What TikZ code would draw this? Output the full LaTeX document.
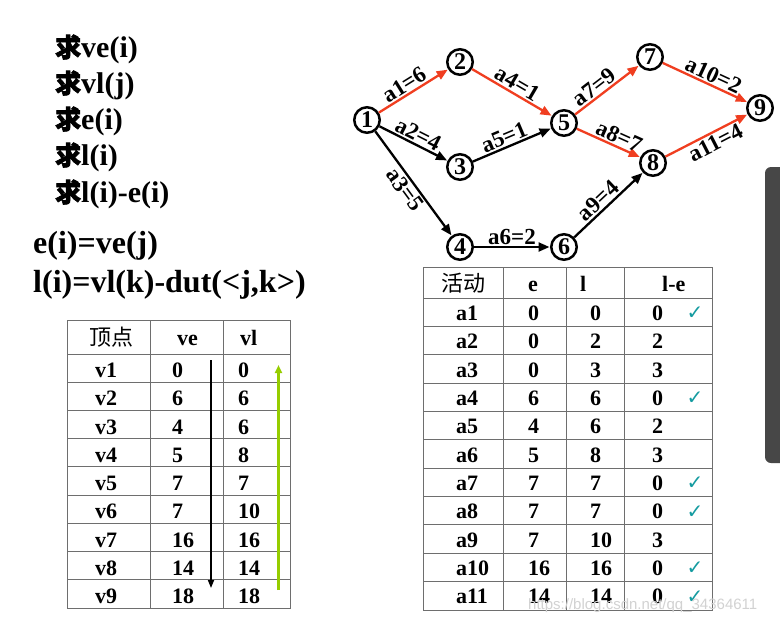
\documentclass[tikz,border=0pt]{standalone}
\usepackage{fontspec}
\setmainfont{Liberation Serif}
\newfontfamily\cjk{Noto Sans CJK SC}
\newfontfamily\cjkb[FakeBold=2.5]{Noto Sans CJK SC}
\newfontfamily\symf{DejaVu Sans}
\newfontfamily\wmf{Liberation Sans}
\usetikzlibrary{arrows.meta}
\definecolor{cpred}{RGB}{240,62,32}
\definecolor{ygreen}{RGB}{150,205,0}
\definecolor{chk}{RGB}{20,155,160}
\definecolor{barg}{RGB}{71,71,71}
\definecolor{tblc}{RGB}{110,110,110}
\tikzset{
  qiu/.style={anchor=base west, inner sep=0pt, font=\bfseries\fontsize{30}{30}\selectfont},
  formula/.style={anchor=base west, inner sep=0pt, font=\bfseries\fontsize{32}{32}\selectfont},
  vtx/.style={circle, draw, line width=2.5pt, fill=white, minimum size=25.5pt, inner sep=0pt, font=\bfseries\fontsize{24}{24}\selectfont},
  ed/.style={line width=2.3pt, -{Triangle[length=11pt,width=9pt]}, shorten >=0.5pt},
  crit/.style={ed, draw=cpred, fill=cpred},
  lab/.style={sloped, font=\bfseries\fontsize{23}{23}\selectfont, inner sep=1.5pt},
  tbl/.style={draw=tblc, line width=1pt},
  cell/.style={anchor=base west, inner sep=0pt, font=\bfseries\fontsize{22}{22}\selectfont},
  hcell/.style={inner sep=0pt, font=\cjk\fontsize{22}{22}\selectfont},
  chkm/.style={inner sep=0pt, text=chk, font=\symf\fontsize{20}{20}\selectfont}
}
\begin{document}
\begin{tikzpicture}[x=1pt,y=-1pt]
\useasboundingbox (0,0) rectangle (780,625);
\fill[white] (0,0) rectangle (780,625);

% left text
\node[qiu] (q1) at (55,57) {{\cjkb\fontsize{26}{26}\selectfont 求}ve(i)};
\node[qiu] (q2) at (55,93) {{\cjkb\fontsize{26}{26}\selectfont 求}vl(j)};
\node[qiu] (q3) at (55,129) {{\cjkb\fontsize{26}{26}\selectfont 求}e(i)};
\node[qiu] (q4) at (55,165) {{\cjkb\fontsize{26}{26}\selectfont 求}l(i)};
\node[qiu] (q5) at (55,202) {{\cjkb\fontsize{26}{26}\selectfont 求}l(i)-e(i)};
\node[formula] (f1) at (33,253) {e(i)=ve(j)};
\node[formula] (f2) at (33,292) {l(i)=vl(k)-dut(<j,k>)};

% graph
\node[vtx] (n1) at (367,120) {1};
\node[vtx] (n2) at (460,62) {2};
\node[vtx] (n3) at (460,167) {3};
\node[vtx] (n4) at (460,247) {4};
\node[vtx] (n5) at (564,123) {5};
\node[vtx] (n6) at (564,247) {6};
\node[vtx] (n7) at (650,57) {7};
\node[vtx] (n8) at (653,163) {8};
\node[vtx] (n9) at (760,108) {9};

\draw[crit] (n1) -- node[lab, above, pos=0.45] (l1) {a1=6} (n2);
\draw[ed] (n1) -- node[lab, above, pos=0.5] (l2) {a2=4} (n3);
\draw[ed] (n1) -- node[lab, below, pos=0.5] (l3) {a3=5} (n4);
\draw[crit] (n2) -- node[lab, above, pos=0.5] (l4) {a4=1} (n5);
\draw[ed] (n3) -- node[lab, above, pos=0.45] (l5) {a5=1} (n5);
\draw[ed] (n4) -- node[lab, above, pos=0.5] (l6) {a6=2} (n6);
\draw[crit] (n5) -- node[lab, above, pos=0.4] (l7) {a7=9} (n7);
\draw[crit] (n5) -- node[lab, above, pos=0.6] (l8) {a8=7} (n8);
\draw[ed] (n6) -- node[lab, above, pos=0.45] (l9) {a9=4} (n8);
\draw[crit] (n7) -- node[lab, above, pos=0.55] (l10) {a10=2} (n9);
\draw[crit] (n8) -- node[lab, below, pos=0.55] (l11) {a11=4} (n9);

% left table
\draw[tbl] (67,320) rectangle (290,608);
\draw[tbl] (150,320) -- (150,608);
\draw[tbl] (223,320) -- (223,608);
\foreach \k in {0,...,8} {
  \draw[tbl] (67,354+\k*28.22) -- (290,354+\k*28.22);
}
\node[hcell] (h1) at (111,337) {顶点};
\node[cell] (h2) at (177,345) {ve};
\node[cell] (h3) at (240,345) {vl};
\foreach \n/\a/\b [count=\i] in {v1/0/0, v2/6/6, v3/4/6, v4/5/8, v5/7/7, v6/7/10, v7/16/16, v8/14/14, v9/18/18} {
  \node[cell] (vn\i) at (95,354+\i*28.22-4.5) {\n};
  \node[cell] (ve\i) at (172,354+\i*28.22-4.5) {\a};
  \node[cell] (vl\i) at (238,354+\i*28.22-4.5) {\b};
}
\coordinate (ba) at (211,360);
\coordinate (bb) at (211,588);
\coordinate (ga) at (278.5,590);
\coordinate (gb) at (278.5,365);
\draw[line width=1.6pt, -{Triangle[length=8pt,width=6pt]}] (ba) -- (bb);
\draw[ygreen, line width=2.2pt, -{Triangle[length=8pt,width=7pt]}] (ga) -- (gb);

% right table
\draw[tbl] (423,267) rectangle (712,610);
\foreach \x in {503,566,624} { \draw[tbl] (\x,267) -- (\x,610); }
\foreach \k in {0,...,10} {
  \draw[tbl] (423,298+\k*28.36) -- (712,298+\k*28.36);
}
\node[hcell] (r1) at (463,283) {活动};
\node[cell] (r2) at (528,291) {e};
\node[cell] (r3) at (580,291) {l};
\node[cell] (r4) at (662,291) {l-e};
\foreach \n/\a/\b/\c/\m [count=\i] in {a1/0/0/0/1, a2/0/2/2/0, a3/0/3/3/0, a4/6/6/0/1, a5/4/6/2/0, a6/5/8/3/0, a7/7/7/0/1, a8/7/7/0/1, a9/7/10/3/0, a10/16/16/0/1, a11/14/14/0/1} {
  \node[cell] (an\i) at (456,298+\i*28.36-6) {\n};
  \node[cell] (ae\i) at (528,298+\i*28.36-6) {\a};
  \node[cell] (al\i) at (590,298+\i*28.36-6) {\b};
  \node[cell] (ad\i) at (652,298+\i*28.36-6) {\c};
  \ifnum\m=1
    \node[chkm] (ck\i) at (695,298+\i*28.36-13) {✓};
  \fi
}

% watermark
\node[anchor=west, inner sep=0pt, text=gray!35, font=\wmf\fontsize{15}{15}\selectfont] (wm) at (528,606) {https://blog.csdn.net/qq\_34364611};

% scroll bar
\begin{scope}
\clip (0,0) rectangle (780,625);
\fill[barg, rounded corners=6pt] (765,167) rectangle (795,463);
\end{scope}
\end{tikzpicture}
\end{document}
